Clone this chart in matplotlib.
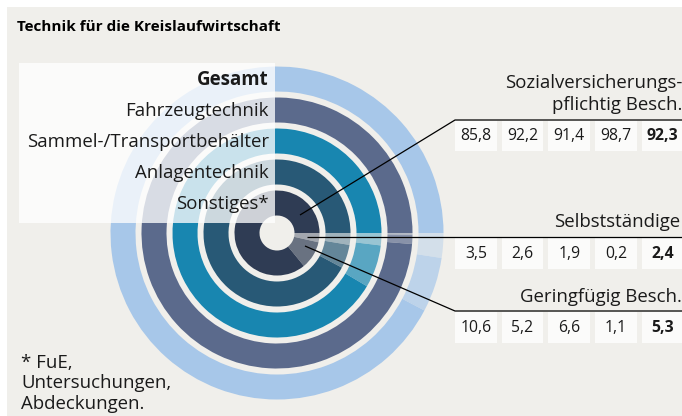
import matplotlib
matplotlib.use("Agg")
import matplotlib.pyplot as plt
import matplotlib.colors as mcolors
from matplotlib.patches import Rectangle

# Beschäftigungsstruktur nach Fachbereich (Anteile in %)
categories = ["Sonstiges*", "Anlagentechnik", "Sammel-/Transportbehälter",
              "Fahrzeugtechnik", "Gesamt"]
sozialversichert = [85.8, 92.2, 91.4, 98.7, 92.3]
selbststaendige = [3.5, 2.6, 1.9, 0.2, 2.4]
geringfuegig = [10.6, 5.2, 6.6, 1.1, 5.3]
ring_colors = ["#2f3c54", "#285976", "#1886b0", "#5b6a8c", "#a7c7e9"]

BG = "#f0efeb"
INK = "#1a1a1a"
W, H = 682, 416

plt.rcParams["font.family"] = ["Open Sans", "DejaVu Sans"]

fig = plt.figure(figsize=(W / 100, H / 100), dpi=100, facecolor="white")
ax = fig.add_axes([0, 0, 1, 1])

ax.add_patch(Rectangle((7, 7), W - 7, H - 7, facecolor=BG,
                       edgecolor="none", zorder=0))


def tint(color, a):
    c = mcolors.to_rgb(color)
    b = mcolors.to_rgb(BG)
    return tuple(a * ci + (1 - a) * bi for ci, bi in zip(c, b))


def fmt(v):
    return f"{v:.1f}".replace(".", ",")


# concentric rings, innermost = Sonstiges, outermost = Gesamt
cx, cy = 277, 233
r_in, band, pitch = 42.5, 25, 31
for i, (col, s, g, v) in enumerate(zip(ring_colors, selbststaendige,
                                       geringfuegig, sozialversichert)):
    ax.pie([s, g, v], radius=r_in + i * pitch, center=(cx, cy),
           startangle=0, counterclock=True,
           colors=[tint(col, 0.4), tint(col, 0.7), col],
           wedgeprops=dict(width=band, linewidth=0), frame=True)

ax.set_xlim(0, W)
ax.set_ylim(H, 0)
ax.set_axis_off()

# translucent label panel over the upper-left quadrant
ax.add_patch(Rectangle((19, 63), 256, 160, facecolor="white", alpha=0.77,
                       edgecolor="none", zorder=3))
for i, name in enumerate(categories):
    y = cy - (r_in + i * pitch - band / 2)
    ax.text(269, y + 1, name, ha="right", va="center", fontsize=13.4,
            color=INK, weight="bold" if name == "Gesamt" else "normal",
            zorder=5)

ax.text(17, 27, "Technik für die Kreislaufwirtschaft", ha="left",
        va="center", fontsize=11, weight="bold", color="black", zorder=5)

# leader lines
lk = dict(color="black", lw=0.9, zorder=6, solid_capstyle="butt")
ax.plot([300, 455, W], [215, 120, 120], **lk)
ax.plot([307, W], [237, 237], **lk)
ax.plot([305, 455, W], [246, 311, 311], **lk)

# value tables
rows = [(sozialversichert, 121, 30), (selbststaendige, 238, 31),
        (geringfuegig, 312, 31)]
for values, top, h in rows:
    for j, v in enumerate(values):
        x0 = 455 + j * 46.7
        ax.add_patch(Rectangle((x0, top), 41.7, h, facecolor="#fbfbfa",
                               edgecolor="none", zorder=4))
        ax.text(x0 + 20.85, top + h / 2, fmt(v), ha="center", va="center",
                fontsize=11.3, color=INK,
                weight="bold" if j == len(values) - 1 else "normal",
                zorder=5)

hk = dict(ha="right", va="center", fontsize=13.4, color=INK, zorder=5)
ax.text(682, 82.7, "Sozialversicherungs-", **hk)
ax.text(682, 105, "pflichtig Besch.", **hk)
ax.text(680, 221.7, "Selbstständige", **hk)
ax.text(682, 296.7, "Geringfügig Besch.", **hk)

ax.text(21, 383.5, "* FuE,\nUntersuchungen,\nAbdeckungen.", ha="left",
        va="center", fontsize=13.4, color=INK, linespacing=1.17, zorder=5)

fig.savefig("out.png", dpi=100, facecolor="white")
